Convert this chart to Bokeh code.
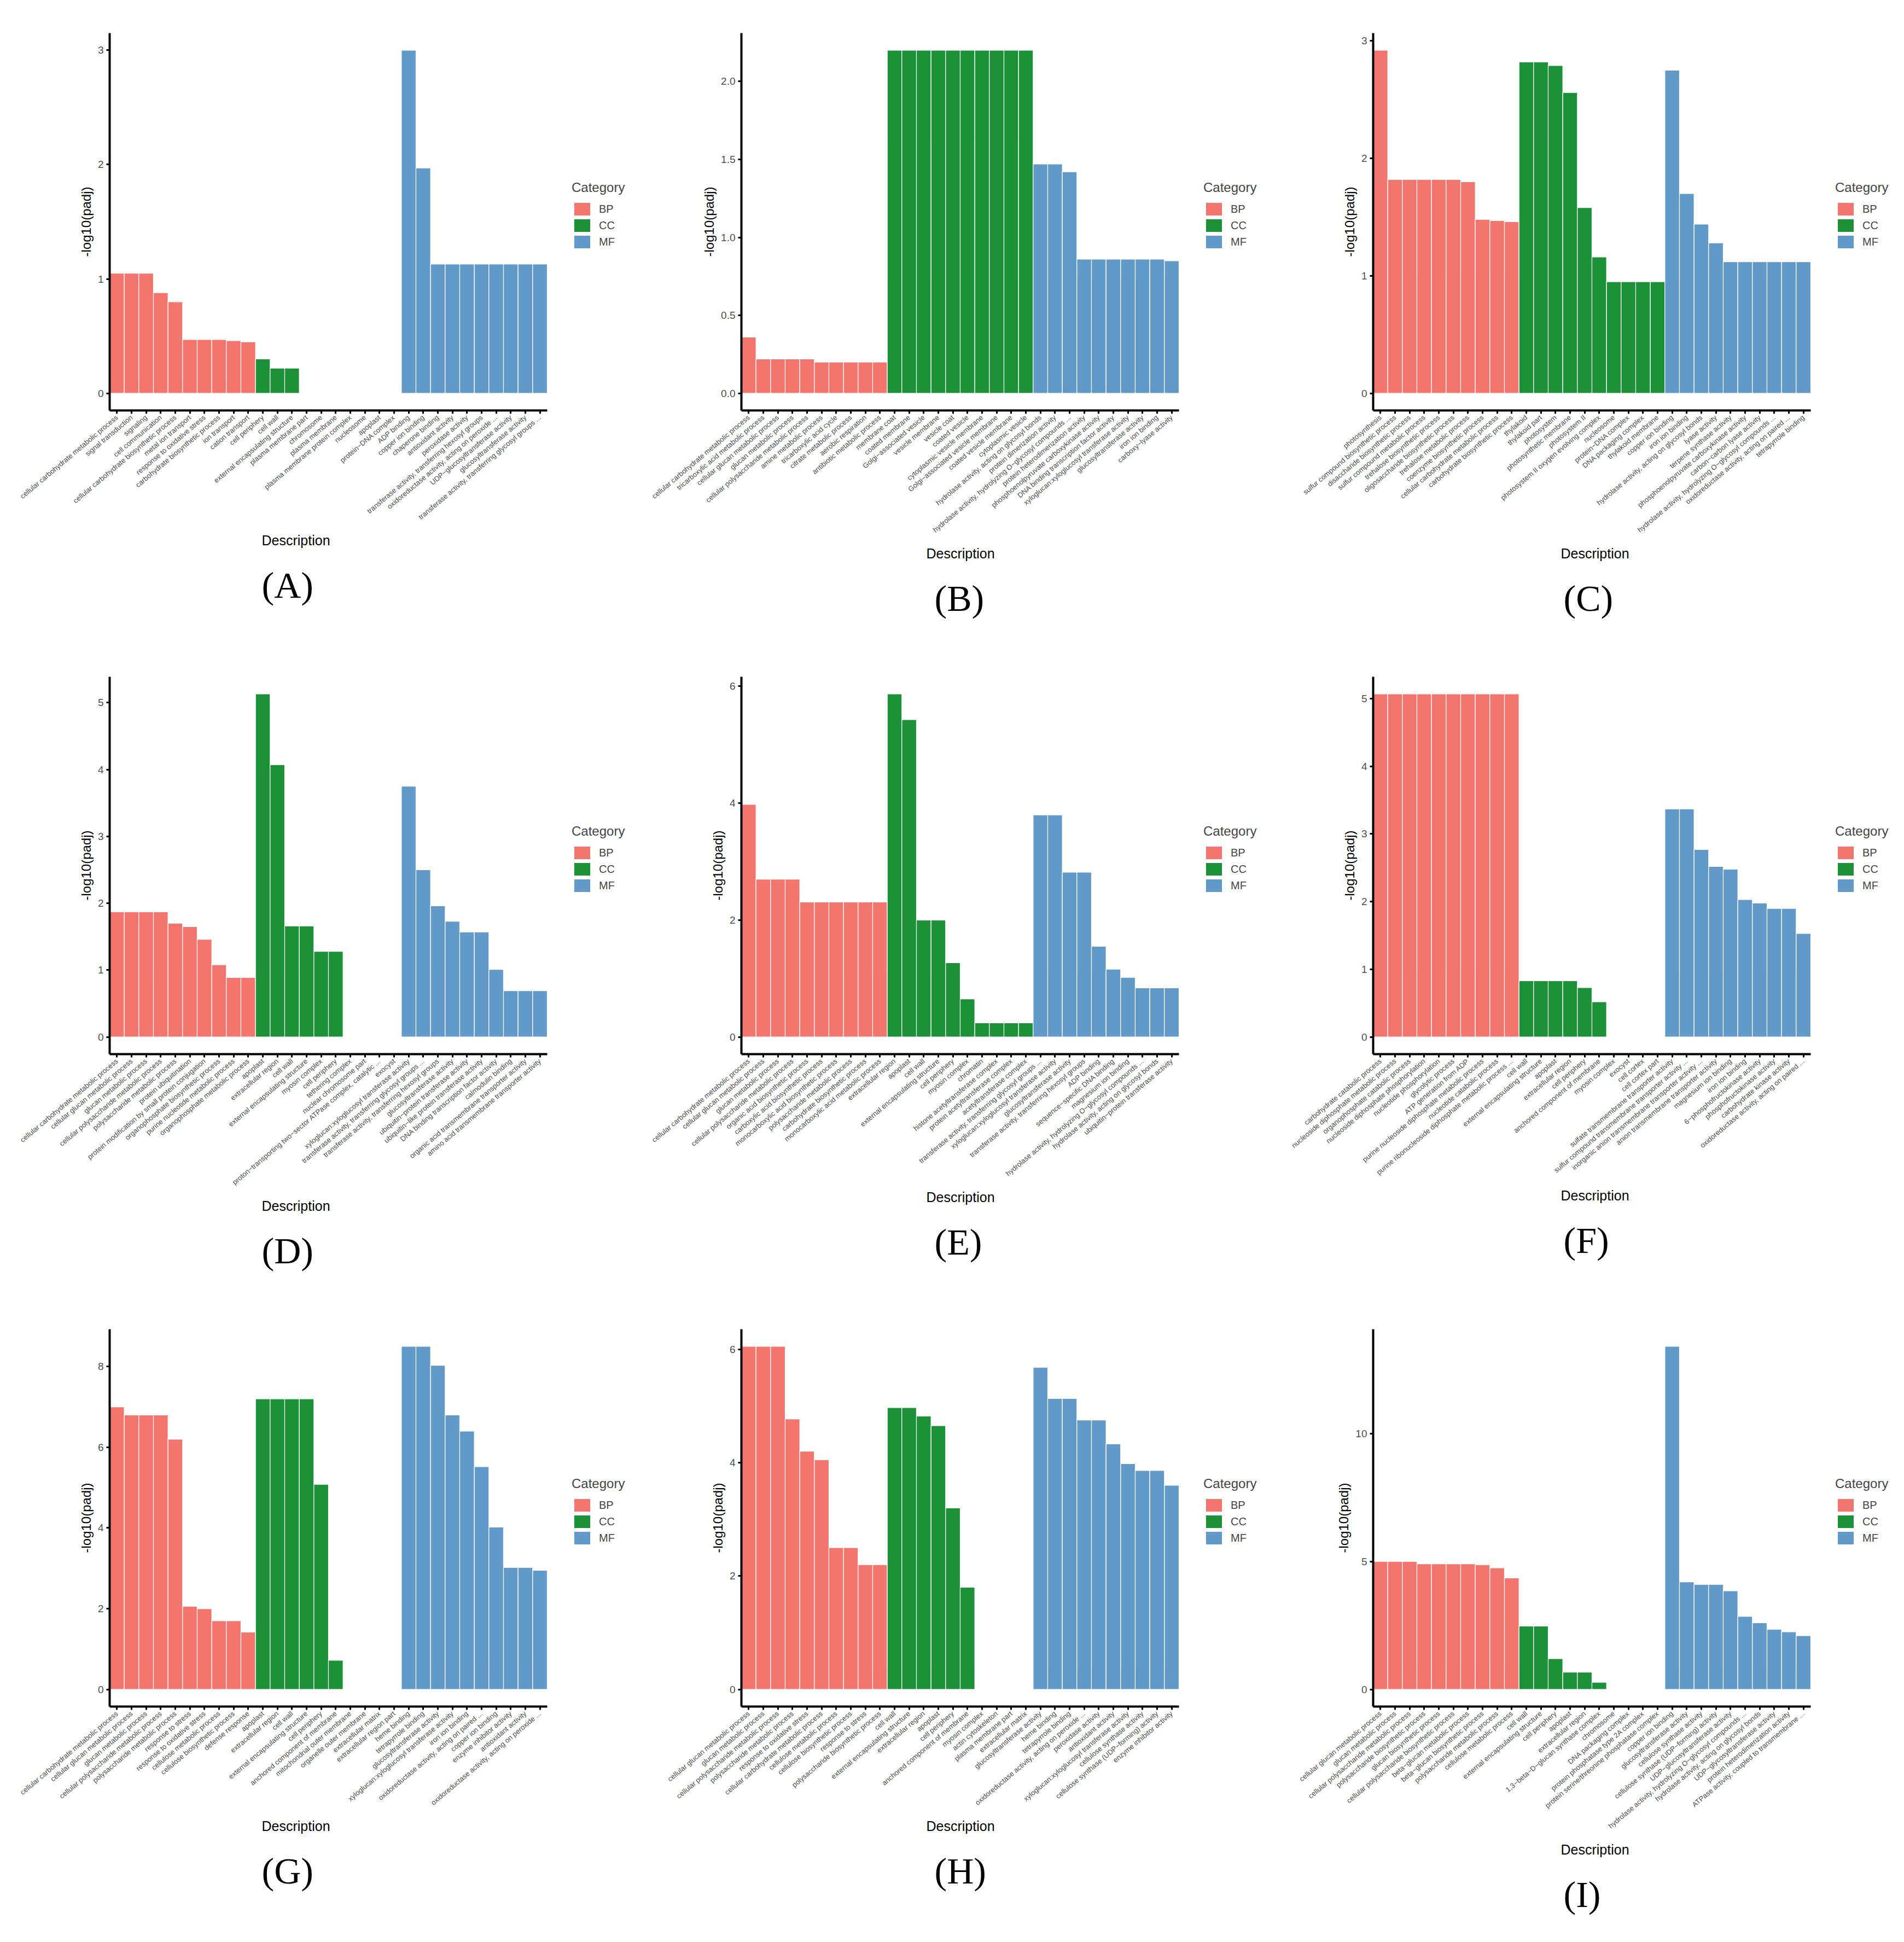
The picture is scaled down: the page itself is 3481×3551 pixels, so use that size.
from bokeh.plotting import figure
from bokeh.layouts import row, column
from bokeh.models import Legend, LegendItem, Title, FixedTicker, NumeralTickFormatter
from bokeh.embed import file_html
from bokeh.resources import INLINE

# GO categories, 10 terms each, in this order in every panel
categories = ["BP", "CC", "MF"]
colors = {"BP": "#F2766E", "CC": "#1C9138", "MF": "#6199C9"}
per_cat = 10

terms_a = ["cellular carbohydrate metabolic process", "signal transduction", "signaling",
           "cell communication", "cellular carbohydrate biosynthetic process", "metal ion transport",
           "response to oxidative stress", "carbohydrate biosynthetic process", "ion transport",
           "cation transport",
           "cell periphery", "cell wall", "external encapsulating structure", "plasma membrane part",
           "chromosome", "plasma membrane", "plasma membrane protein complex", "nucleosome",
           "apoplast", "protein−DNA complex",
           "ADP binding", "copper ion binding", "chaperone binding", "antioxidant activity",
           "peroxidase activity", "transferase activity, transferring hexosyl groups",
           "oxidoreductase activity, acting on peroxide ...", "UDP−glucosyltransferase activity",
           "glucosyltransferase activity", "transferase activity, transferring glycosyl groups ..."]
padj_a = [1.05, 1.05, 1.05, 0.88, 0.80, 0.47, 0.47, 0.47, 0.46, 0.45,
          0.30, 0.22, 0.22, 0, 0, 0, 0, 0, 0, 0,
          3.00, 1.97, 1.13, 1.13, 1.13, 1.13, 1.13, 1.13, 1.13, 1.13]
yticks_a = [0, 1, 2, 3]

terms_b = ["cellular carbohydrate metabolic process", "tricarboxylic acid metabolic process",
           "cellular glucan metabolic process", "glucan metabolic process",
           "cellular polysaccharide metabolic process", "amine metabolic process",
           "tricarboxylic acid cycle", "citrate metabolic process", "aerobic respiration",
           "antibiotic metabolic process",
           "membrane coat", "coated membrane", "Golgi−associated vesicle", "vesicle membrane",
           "vesicle coat", "coated vesicle", "cytoplasmic vesicle membrane",
           "Golgi−associated vesicle membrane", "coated vesicle membrane", "cytoplasmic vesicle",
           "hydrolase activity, acting on glycosyl bonds", "protein dimerization activity",
           "hydrolase activity, hydrolyzing O−glycosyl compounds ...",
           "protein heterodimerization activity", "phosphoenolpyruvate carboxykinase activity",
           "DNA binding transcription factor activity", "xyloglucan:xyloglucosyl transferase activity",
           "glucosyltransferase activity", "iron ion binding", "carboxy−lyase activity"]
padj_b = [0.36, 0.22, 0.22, 0.22, 0.22, 0.20, 0.20, 0.20, 0.20, 0.20,
          2.2, 2.2, 2.2, 2.2, 2.2, 2.2, 2.2, 2.2, 2.2, 2.2,
          1.47, 1.47, 1.42, 0.86, 0.86, 0.86, 0.86, 0.86, 0.86, 0.85]
yticks_b = [0.0, 0.5, 1.0, 1.5, 2.0]

terms_c = ["photosynthesis", "sulfur compound biosynthetic process", "disaccharide biosynthetic process",
           "sulfur compound metabolic process", "trehalose biosynthetic process",
           "oligosaccharide biosynthetic process", "trehalose metabolic process",
           "coenzyme biosynthetic process", "cellular carbohydrate metabolic process",
           "carbohydrate biosynthetic process",
           "thylakoid", "thylakoid part", "photosystem", "photosynthetic membrane", "photosystem II",
           "photosystem II oxygen evolving complex", "nucleosome", "protein−DNA complex",
           "DNA packaging complex", "thylakoid membrane",
           "copper ion binding", "iron ion binding", "hydrolase activity, acting on glycosyl bonds",
           "lyase activity", "terpene synthase activity", "phosphoenolpyruvate carboxykinase activity",
           "carbon−carbon lyase activity", "hydrolase activity, hydrolyzing O−glycosyl compounds ...",
           "oxidoreductase activity, acting on paired ...", "tetrapyrrole binding"]
padj_c = [2.92, 1.82, 1.82, 1.82, 1.82, 1.82, 1.80, 1.48, 1.47, 1.46,
          2.82, 2.82, 2.79, 2.56, 1.58, 1.16, 0.95, 0.95, 0.95, 0.95,
          2.75, 1.70, 1.44, 1.28, 1.12, 1.12, 1.12, 1.12, 1.12, 1.12]
yticks_c = [0, 1, 2, 3]

terms_d = ["cellular carbohydrate metabolic process", "cellular glucan metabolic process",
           "glucan metabolic process", "cellular polysaccharide metabolic process",
           "polysaccharide metabolic process", "protein ubiquitination",
           "protein modification by small protein conjugation", "organophosphate biosynthetic process",
           "purine nucleotide metabolic process", "organophosphate metabolic process",
           "apoplast", "extracellular region", "cell wall", "external encapsulating structure",
           "myosin complex", "cell periphery", "tethering complex", "nuclear chromosome part",
           "proton−transporting two−sector ATPase complex, catalytic ...", "exocyst",
           "xyloglucan:xyloglucosyl transferase activity",
           "transferase activity, transferring glycosyl groups ...",
           "transferase activity, transferring hexosyl groups", "glucosyltransferase activity",
           "ubiquitin−protein transferase activity", "ubiquitin−like protein transferase activity",
           "DNA binding transcription factor activity", "calmodulin binding",
           "organic acid transmembrane transporter activity",
           "amino acid transmembrane transporter activity"]
padj_d = [1.87, 1.87, 1.87, 1.87, 1.70, 1.65, 1.46, 1.08, 0.89, 0.89,
          5.13, 4.07, 1.66, 1.66, 1.28, 1.28, 0, 0, 0, 0,
          3.75, 2.50, 1.96, 1.73, 1.57, 1.57, 1.01, 0.69, 0.69, 0.69]
yticks_d = [0, 1, 2, 3, 4, 5]

terms_e = ["cellular carbohydrate metabolic process", "cellular glucan metabolic process",
           "glucan metabolic process", "cellular polysaccharide metabolic process",
           "organic acid biosynthetic process", "carboxylic acid biosynthetic process",
           "monocarboxylic acid biosynthetic process", "polysaccharide metabolic process",
           "carbohydrate biosynthetic process", "monocarboxylic acid metabolic process",
           "extracellular region", "apoplast", "cell wall", "external encapsulating structure",
           "cell periphery", "myosin complex", "chromatin", "histone acetyltransferase complex",
           "protein acetyltransferase complex", "acetyltransferase complex",
           "transferase activity, transferring glycosyl groups ...",
           "xyloglucan:xyloglucosyl transferase activity", "glucosyltransferase activity",
           "transferase activity, transferring hexosyl groups", "ADP binding",
           "sequence−specific DNA binding", "magnesium ion binding",
           "hydrolase activity, hydrolyzing O−glycosyl compounds ...",
           "hydrolase activity, acting on glycosyl bonds", "ubiquitin−protein transferase activity"]
padj_e = [3.98, 2.70, 2.70, 2.70, 2.31, 2.31, 2.31, 2.31, 2.31, 2.31,
          5.87, 5.43, 2.00, 2.00, 1.27, 0.65, 0.24, 0.24, 0.24, 0.24,
          3.80, 3.80, 2.82, 2.82, 1.55, 1.16, 1.02, 0.84, 0.84, 0.84]
yticks_e = [0, 2, 4, 6]

terms_f = ["carbohydrate catabolic process", "nucleoside diphosphate metabolic process",
           "organophosphate catabolic process", "nucleoside diphosphate phosphorylation",
           "nucleotide phosphorylation", "glycolytic process", "ATP generation from ADP",
           "purine nucleoside diphosphate metabolic process", "nucleotide catabolic process",
           "purine ribonucleoside diphosphate metabolic process ...",
           "cell wall", "external encapsulating structure", "apoplast", "extracellular region",
           "cell periphery", "anchored component of membrane", "myosin complex", "exocyst",
           "cell cortex", "cell cortex part",
           "sulfate transmembrane transporter activity",
           "sulfur compound transmembrane transporter activity ...",
           "inorganic anion transmembrane transporter activity ...",
           "anion transmembrane transporter activity", "magnesium ion binding", "iron ion binding",
           "6−phosphofructokinase activity", "phosphofructokinase activity",
           "carbohydrate kinase activity", "oxidoreductase activity, acting on paired ..."]
padj_f = [5.07, 5.07, 5.07, 5.07, 5.07, 5.07, 5.07, 5.07, 5.07, 5.07,
          0.83, 0.83, 0.83, 0.83, 0.73, 0.52, 0, 0, 0, 0,
          3.37, 3.37, 2.77, 2.52, 2.48, 2.03, 1.98, 1.90, 1.90, 1.53]
yticks_f = [0, 1, 2, 3, 4, 5]

terms_g = ["cellular carbohydrate metabolic process", "cellular glucan metabolic process",
           "glucan metabolic process", "cellular polysaccharide metabolic process",
           "polysaccharide metabolic process", "response to stress", "response to oxidative stress",
           "cellulose metabolic process", "cellulose biosynthetic process", "defense response",
           "apoplast", "extracellular region", "cell wall", "external encapsulating structure",
           "cell periphery", "anchored component of membrane", "mitochondrial outer membrane",
           "organelle outer membrane", "extracellular matrix", "extracellular region part",
           "heme binding", "tetrapyrrole binding", "glucosyltransferase activity",
           "xyloglucan:xyloglucosyl transferase activity", "iron ion binding",
           "oxidoreductase activity, acting on paired ...", "copper ion binding",
           "enzyme inhibitor activity", "antioxidant activity",
           "oxidoreductase activity, acting on peroxide ..."]
padj_g = [7.00, 6.80, 6.80, 6.80, 6.20, 2.06, 2.00, 1.70, 1.70, 1.42,
          7.20, 7.20, 7.20, 7.20, 5.08, 0.72, 0, 0, 0, 0,
          8.50, 8.50, 8.03, 6.80, 6.40, 5.52, 4.02, 3.02, 3.02, 2.95]
yticks_g = [0, 2, 4, 6, 8]

terms_h = ["cellular glucan metabolic process", "glucan metabolic process",
           "cellular polysaccharide metabolic process", "polysaccharide metabolic process",
           "response to oxidative stress", "cellular carbohydrate metabolic process",
           "cellulose metabolic process", "cellulose biosynthetic process", "response to stress",
           "polysaccharide biosynthetic process",
           "cell wall", "external encapsulating structure", "extracellular region", "apoplast",
           "cell periphery", "anchored component of membrane", "myosin complex", "actin cytoskeleton",
           "plasma membrane part", "extracellular matrix",
           "glucosyltransferase activity", "heme binding", "tetrapyrrole binding",
           "oxidoreductase activity, acting on peroxide ...", "peroxidase activity",
           "antioxidant activity", "xyloglucan:xyloglucosyl transferase activity",
           "cellulose synthase activity", "cellulose synthase (UDP−forming) activity",
           "enzyme inhibitor activity"]
padj_h = [6.05, 6.05, 6.05, 4.77, 4.20, 4.05, 2.50, 2.50, 2.20, 2.20,
          4.97, 4.97, 4.82, 4.65, 3.20, 1.80, 0, 0, 0, 0,
          5.68, 5.13, 5.13, 4.75, 4.75, 4.33, 3.98, 3.86, 3.86, 3.60]
yticks_h = [0, 2, 4, 6]

terms_i = ["cellular glucan metabolic process", "glucan metabolic process",
           "cellular polysaccharide metabolic process", "polysaccharide biosynthetic process",
           "glucan biosynthetic process", "cellular polysaccharide biosynthetic process",
           "beta−glucan metabolic process", "beta−glucan biosynthetic process",
           "polysaccharide metabolic process", "cellulose metabolic process",
           "cell wall", "external encapsulating structure", "cell periphery", "apoplast",
           "extracellular region", "1,3−beta−D−glucan synthase complex", "chromosome",
           "DNA packaging complex", "protein phosphatase type 2A complex",
           "protein serine/threonine phosphatase complex",
           "copper ion binding", "glucosyltransferase activity", "cellulose synthase activity",
           "cellulose synthase (UDP−forming) activity", "UDP−glucosyltransferase activity",
           "hydrolase activity, hydrolyzing O−glycosyl compounds ...",
           "hydrolase activity, acting on glycosyl bonds", "UDP−glycosyltransferase activity",
           "protein heterodimerization activity", "ATPase activity, coupled to transmembrane ..."]
padj_i = [5.00, 5.00, 5.00, 4.90, 4.90, 4.90, 4.90, 4.87, 4.75, 4.35,
          2.47, 2.47, 1.20, 0.67, 0.67, 0.28, 0, 0, 0, 0,
          13.40, 4.20, 4.10, 4.10, 3.85, 2.85, 2.60, 2.35, 2.25, 2.10]
yticks_i = [0, 5, 10]

panels = [
    ("(A)", terms_a, padj_a, yticks_a),
    ("(B)", terms_b, padj_b, yticks_b),
    ("(C)", terms_c, padj_c, yticks_c),
    ("(D)", terms_d, padj_d, yticks_d),
    ("(E)", terms_e, padj_e, yticks_e),
    ("(F)", terms_f, padj_f, yticks_f),
    ("(G)", terms_g, padj_g, yticks_g),
    ("(H)", terms_h, padj_h, yticks_h),
    ("(I)", terms_i, padj_i, yticks_i),
]

FONT = "Liberation Sans"
FW, FH = 800, 690      # bar area
LEG_W = 155            # extra room on the right of the bar area for the legend
# horizontal centre (px from bar-area left) of "Description" and the panel letter, per column
desc_centre = [340, 400, 405]
letter_centre = [325, 400, 395]
# top / bottom border per row of panels
row_top = [60, 72, 88]
row_bottom = [415, 415, 405]


def go_panel(letter, terms, vals, yticks, col, rw):
    n = len(terms)
    top = max(vals)
    unit = FW / n
    # the frame is widened to hold the legend; axis line is clipped back with bounds
    p = figure(frame_width=FW + LEG_W, frame_height=FH,
               x_range=(0.5, n + 0.5 + LEG_W / unit),
               y_range=(-0.05 * top, 1.05 * top), output_backend="svg",
               toolbar_location=None, min_border_left=200, min_border_right=0,
               min_border_top=row_top[rw], min_border_bottom=row_bottom[rw])
    items = []
    for k, cat in enumerate(categories):
        xs = list(range(k * per_cat + 1, (k + 1) * per_cat + 1))
        tops = vals[k * per_cat:(k + 1) * per_cat]
        r = p.vbar(x=xs, top=tops, bottom=0, width=1.0, fill_color=colors[cat],
                   line_color="white", line_width=1.2)
        items.append(LegendItem(label=cat, renderers=[r]))

    # x axis: rotated GO term labels
    p.xaxis.bounds = (0.5, n + 0.5)
    p.xaxis.ticker = FixedTicker(ticks=list(range(1, n + 1)))
    p.xaxis.major_label_overrides = {i + 1: t for i, t in enumerate(terms)}
    p.xaxis.major_label_orientation = 0.70
    p.xaxis.major_label_text_font_size = "13px"
    p.xaxis.major_label_standoff = 5

    p.yaxis.ticker = FixedTicker(ticks=yticks)
    if letter == "(B)":
        p.yaxis.formatter = NumeralTickFormatter(format="0.0")
    p.yaxis.major_label_text_font_size = "19px"
    p.yaxis.axis_label = "-log10(padj)"
    p.yaxis.axis_label_text_font_size = "24px"

    for ax in (p.xaxis, p.yaxis):
        ax.axis_line_width = 4
        ax.axis_line_color = "black"
        ax.major_tick_line_width = 3
        ax.major_tick_line_color = "black"
        ax.major_tick_out = 6
        ax.major_tick_in = 0
        ax.minor_tick_line_color = None
        ax.major_label_text_color = "#4D4D4D"
        ax.major_label_text_font = FONT
        ax.axis_label_text_font = FONT
        ax.axis_label_text_font_style = "normal"
        ax.axis_label_text_color = "black"

    p.xgrid.grid_line_color = None
    p.ygrid.grid_line_color = None
    p.outline_line_color = None

    legend = Legend(items=items, title="Category", location=(FW + 45, FH // 2 - 52),
                    glyph_width=38, glyph_height=30, spacing=0, padding=0, margin=0,
                    label_standoff=12, title_standoff=10,
                    label_text_font=FONT, label_text_font_size="20px",
                    title_text_font=FONT, title_text_font_size="24px",
                    title_text_font_style="normal", border_line_color=None,
                    background_fill_alpha=0)
    p.add_layout(legend)

    # x-axis title and panel letter stacked under the tick labels
    p.add_layout(Title(text="Description", align="left", offset=desc_centre[col] - 62,
                       text_font=FONT, text_font_size="25px", text_font_style="normal",
                       text_color="black", standoff=20), "below")
    p.add_layout(Title(text=letter, align="left", offset=letter_centre[col] - 47,
                       text_font="Liberation Serif", text_font_size="68px",
                       text_font_style="normal", text_color="black", standoff=36), "below")
    return p


figs = [go_panel(*pn, col=i % 3, rw=i // 3) for i, pn in enumerate(panels)]
page = column(row(figs[0:3]), row(figs[3:6]), row(figs[6:9]))

open("out.html", "w").write(file_html(page, INLINE))
